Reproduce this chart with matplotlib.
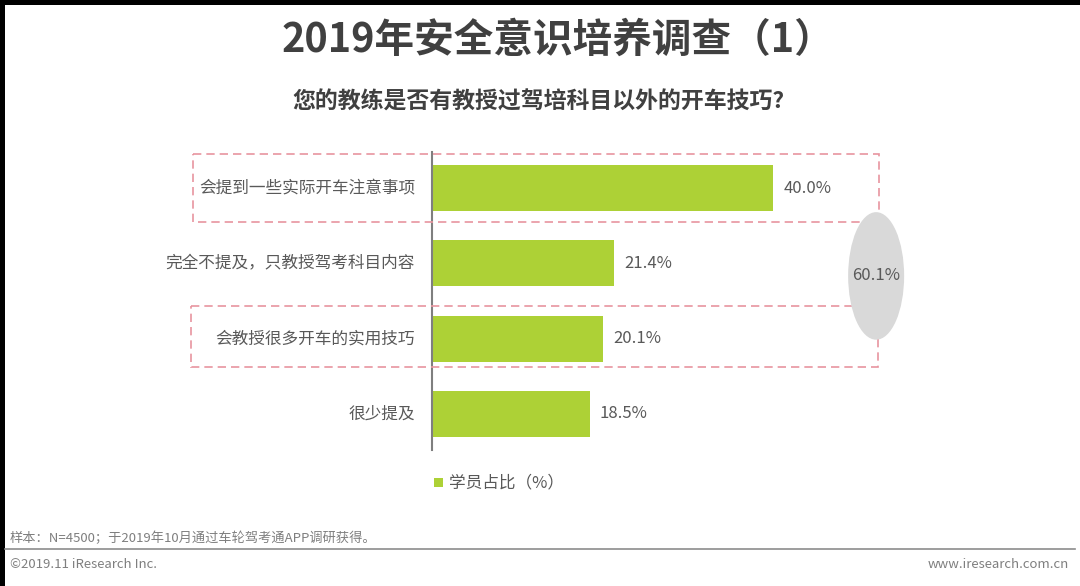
import numpy as np
import matplotlib
matplotlib.use("Agg")
import matplotlib.pyplot as plt
from matplotlib.patches import Rectangle, Ellipse

plt.rcParams['font.family'] = ['Noto Sans CJK SC', 'DejaVu Sans']

categories = ['会提到一些实际开车注意事项', '完全不提及，只教授驾考科目内容',
              '会教授很多开车的实用技巧', '很少提及']
values = [40.0, 21.4, 20.1, 18.5]
combined = 60.1
series_name = '学员占比（%）'

title = '2019年安全意识培养调查（1）'
subtitle = '您的教练是否有教授过驾培科目以外的开车技巧?'
note = '样本：N=4500；于2019年10月通过车轮驾考通APP调研获得。'

green = '#add136'
pink = '#e8959f'
txt = '#595959'

fig = plt.figure(figsize=(10.8, 5.86), dpi=100)
ax = fig.add_axes([0.4, 0.232, 0.4736, 0.5085])

y = np.arange(len(categories))
ax.barh(y, values, height=0.61, color=green)
ax.set_xlim(0, 60)
ax.set_ylim(3.48, -0.48)

for i, v in enumerate(values):
    ax.text(v + 1.2, i, '%.1f%%' % v, va='center', ha='left', fontsize=12, color=txt)
    ax.text(-2.0, i, categories[i], va='center', ha='right', fontsize=12, color=txt)

ax.set_xticks([])
ax.set_yticks([])
for s in ['top', 'right', 'bottom']:
    ax.spines[s].set_visible(False)
ax.spines['left'].set_color('#7f7f7f')
ax.spines['left'].set_linewidth(1.5)

# dashed boxes around the "teaches" answers
for top, bot, x0, x1 in [(-0.45, 0.45, -28.0, 52.4), (1.56, 2.37, -28.3, 52.3)]:
    ax.add_patch(Rectangle((x0, top), x1 - x0, bot - top, fill=False,
                           edgecolor=pink, linestyle=(0, (5, 3)), linewidth=1.2,
                           clip_on=False, zorder=3))

ax.add_patch(Ellipse((52.1, 1.166), 6.57, 1.695, facecolor='#d9d9d9',
                     edgecolor='none', clip_on=False, zorder=4))
ax.text(52.1, 1.166, '%.1f%%' % combined, ha='center', va='center',
        fontsize=12, color=txt, zorder=5)

# legend
fig.patches.append(Rectangle((434 / 1080, 1 - 487 / 586), 9 / 1080, 9 / 586,
                             transform=fig.transFigure, facecolor=green, edgecolor='none'))
fig.text(449 / 1080, 1 - 483 / 586, series_name, ha='left', va='center', fontsize=12, color=txt)

fig.text(0.517, 1 - 40 / 586, title, ha='center', va='center', fontsize=28.5,
         fontweight='bold', color='#404040')
fig.text(0.4986, 1 - 102 / 586, subtitle, ha='center', va='center', fontsize=16.5,
         fontweight='bold', color='#404040')

fig.text(10 / 1080, 1 - 538 / 586, note, ha='left', va='center', fontsize=9.5, color='#7f7f7f')
fig.add_artist(plt.Line2D([5 / 1080, 1075 / 1080], [1 - 549 / 586] * 2,
                          transform=fig.transFigure, color='#8c8c8c', linewidth=1.2))
fig.text(10 / 1080, 1 - 565 / 586, '©2019.11 iResearch Inc.', ha='left', va='center',
         fontsize=9.5, color='#7f7f7f')
fig.text(1069 / 1080, 1 - 565 / 586, 'www.iresearch.com.cn', ha='right', va='center',
         fontsize=9.5, color='#7f7f7f')

# black border strips at top and left
fig.patches.append(Rectangle((0, 1 - 5 / 586), 1, 5 / 586, transform=fig.transFigure,
                             facecolor='black', edgecolor='none'))
fig.patches.append(Rectangle((0, 0), 5 / 1080, 1, transform=fig.transFigure,
                             facecolor='black', edgecolor='none'))

fig.savefig('out.png', dpi=100, facecolor='white')
